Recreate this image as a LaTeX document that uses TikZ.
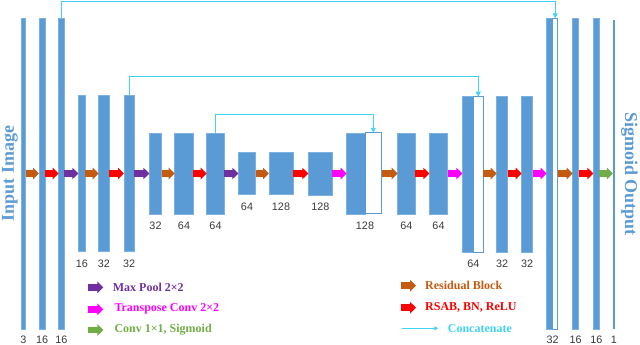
\documentclass[tikz,border=0pt]{standalone}
\usepackage{fontspec}
\setmainfont{Liberation Serif}
\setsansfont{Liberation Sans}
\usetikzlibrary{arrows.meta,calc}
\definecolor{cblue}{HTML}{5B9BD5}
\definecolor{cedge}{HTML}{7DB1E0}
\definecolor{corange}{HTML}{C55A11}
\definecolor{cred}{HTML}{FF0000}
\definecolor{cpurple}{HTML}{7030A0}
\definecolor{cmag}{HTML}{FF00FF}
\definecolor{cgreen}{HTML}{70AD47}
\definecolor{ccyan}{HTML}{40D4F2}
\definecolor{clbl}{HTML}{3A3A3A}
\begin{document}
\begin{tikzpicture}[x=1pt,y=-1pt,
  col/.style={fill=cblue,draw=cedge,line width=0.6pt,inner sep=0pt,outer sep=0pt},
  hol/.style={fill=white,draw=cblue,line width=0.9pt,inner sep=0pt,outer sep=0pt},
  blk/.style={line width=6.5pt,-{Triangle[length=6pt,width=11.5pt]}},
  resb/.style={blk,draw=corange},
  rsab/.style={blk,draw=cred},
  pool/.style={blk,draw=cpurple},
  upc/.style={blk,draw=cmag},
  sigc/.style={blk,draw=cgreen},
  concat/.style={draw=ccyan,line width=0.9pt,-{Triangle[length=5pt,width=5pt]}},
  lbl/.style={font=\sffamily\fontsize{10.8}{12}\selectfont,text=clbl,inner sep=0pt},
  leg/.style={font=\bfseries\fontsize{12}{14}\selectfont,anchor=west,inner sep=0pt},
  side/.style={font=\bfseries\fontsize{18}{20}\selectfont,text=cblue,inner sep=0pt}
]
\useasboundingbox (0,0) rectangle (640,345);
% level 1 (down)
\node[col,minimum width=4.7pt,minimum height=311pt] (c1) at (23.35,173.8) {};
\node[col,minimum width=6.3pt,minimum height=311pt] (c2) at (42.15,173.8) {};
\node[col,minimum width=5.6pt,minimum height=311pt] (c3) at (61.5,173.8) {};
% level 2
\node[col,minimum width=7pt,minimum height=156.5pt] (c4) at (81.8,173.3) {};
\node[col,minimum width=10.6pt,minimum height=156.5pt] (c5) at (104,173.3) {};
\node[col,minimum width=10.3pt,minimum height=156.5pt] (c6) at (129.15,173.3) {};
% level 3
\node[col,minimum width=12.4pt,minimum height=81pt] (c7) at (155.5,173.3) {};
\node[col,minimum width=18.6pt,minimum height=81pt] (c8) at (184,173.3) {};
\node[col,minimum width=17.6pt,minimum height=81pt] (c9) at (215.5,173.3) {};
% level 4
\node[col,minimum width=17.4pt,minimum height=42.6pt] (c10) at (247,173.2) {};
\node[col,minimum width=24pt,minimum height=42.6pt] (c11) at (281,173.2) {};
\node[col,minimum width=24pt,minimum height=42.6pt] (c12) at (320.3,173.6) {};
% up level 3
\node[col,minimum width=18.3pt,minimum height=81pt] (c13a) at (355.85,173.3) {};
\node[hol,minimum width=16.7pt,minimum height=81pt] (c13b) at (373.35,173.3) {};
\node[col,minimum width=17.3pt,minimum height=81pt] (c14) at (406.35,173.3) {};
\node[col,minimum width=18.4pt,minimum height=81pt] (c15) at (438.5,173.3) {};
% up level 2
\node[col,minimum width=11pt,minimum height=156pt] (c16a) at (467.8,174.7) {};
\node[hol,minimum width=10pt,minimum height=156pt] (c16b) at (478.3,174.7) {};
\node[col,minimum width=11pt,minimum height=156pt] (c17) at (502.2,174.7) {};
\node[col,minimum width=11pt,minimum height=156pt] (c18) at (527.2,174.7) {};
% up level 1
\node[col,minimum width=6pt,minimum height=311pt] (c19a) at (549.7,173.8) {};
\node[hol,minimum width=5pt,minimum height=311pt] (c19b) at (555.2,173.8) {};
\node[col,minimum width=6pt,minimum height=311pt] (c20) at (575.7,173.8) {};
\node[col,minimum width=6pt,minimum height=311pt] (c21) at (596.3,173.8) {};
\node[fill=cblue,inner sep=0pt,minimum width=1.4pt,minimum height=309pt] (c22) at (613.8,174.5) {};
% side texts
\node[side,rotate=90] (inp) at (10,173.5) {Input Image};
\node[side,rotate=-90] (outp) at (629.5,174) {Sigmoid Output};
% arrows
\coordinate (m) at (0,173.5);
\draw[resb] (c1.east |- m) -- (c2.west |- m);
\draw[rsab] (c2.east |- m) -- (c3.west |- m);
\draw[pool] (c3.east |- m) -- (c4.west |- m);
\draw[resb] (c4.east |- m) -- (c5.west |- m);
\draw[rsab] (c5.east |- m) -- (c6.west |- m);
\draw[pool] (c6.east |- m) -- (c7.west |- m);
\draw[resb] (c7.east |- m) -- (c8.west |- m);
\draw[rsab] (c8.east |- m) -- (c9.west |- m);
\draw[pool] (c9.east |- m) -- (c10.west |- m);
\draw[resb] (c10.east |- m) -- (c11.west |- m);
\draw[rsab] (c11.east |- m) -- (c12.west |- m);
\draw[upc] (c12.east |- m) -- (c13a.west |- m);
\draw[resb] (c13b.east |- m) -- (c14.west |- m);
\draw[rsab] (c14.east |- m) -- (c15.west |- m);
\draw[upc] (c15.east |- m) -- (c16a.west |- m);
\draw[resb] (c16b.east |- m) -- (c17.west |- m);
\draw[rsab] (c17.east |- m) -- (c18.west |- m);
\draw[upc] (c18.east |- m) -- (c19a.west |- m);
\draw[resb] (c19b.east |- m) -- (c20.west |- m);
\draw[rsab] (c20.east |- m) -- (c21.west |- m);
\draw[sigc] (c21.east |- m) -- (c22.west |- m);
% concatenations
\coordinate (k1) at (0,1.2);
\coordinate (k2) at (0,76.3);
\coordinate (k3) at (0,114.3);
\draw[concat] (c3.north) -- (c3.north |- k1) -| (c19b.north);
\draw[concat] (c6.north) -- (c6.north |- k2) -| (c16b.north);
\draw[concat] (c9.north) -- (c9.north |- k3) -| (c13b.north);
% labels
\coordinate (l1) at (0,340);
\coordinate (l2) at (0,263.5);
\coordinate (l3) at (0,225.7);
\coordinate (l4) at (0,206.7);
\node[lbl] (t1) at (c1 |- l1) {3};
\node[lbl] (t2) at (c2 |- l1) {16};
\node[lbl] (t3) at (c3 |- l1) {16};
\node[lbl] (t4) at (c4 |- l2) {16};
\node[lbl] (t5) at (c5 |- l2) {32};
\node[lbl] (t6) at (c6 |- l2) {32};
\node[lbl] (t7) at (c7 |- l3) {32};
\node[lbl] (t8) at (c8 |- l3) {64};
\node[lbl] (t9) at (c9 |- l3) {64};
\node[lbl] (t10) at (c10 |- l4) {64};
\node[lbl] (t11) at (c11 |- l4) {128};
\node[lbl] (t12) at (c12 |- l4) {128};
\node[lbl] (t13) at (c13a.east |- l3) {128};
\node[lbl] (t14) at (c14 |- l3) {64};
\node[lbl] (t15) at (c15 |- l3) {64};
\node[lbl] (t16) at (c16a.east |- l2) {64};
\node[lbl] (t17) at (c17 |- l2) {32};
\node[lbl] (t18) at (c18 |- l2) {32};
\node[lbl] (t19) at (c19a.east |- l1) {32};
\node[lbl] (t20) at (c20 |- l1) {16};
\node[lbl] (t21) at (c21 |- l1) {16};
\node[lbl] (t22) at (c22 |- l1) {1};
% legend
\coordinate (pa) at (88.3,287.3); \coordinate (pb) at (103.3,287.3);
\coordinate (ma) at (88.3,309.3); \coordinate (mb) at (103.3,309.3);
\coordinate (ga) at (88.3,330);   \coordinate (gb) at (103.3,330);
\coordinate (oa) at (400.7,285.7); \coordinate (ob) at (416,285.7);
\coordinate (ra) at (400.7,307.7); \coordinate (rb) at (416,307.7);
\coordinate (ya) at (401.7,328.3); \coordinate (yb) at (438.3,328.3);
\draw[pool] (pa) -- (pb);
\draw[upc] (ma) -- (mb);
\draw[sigc] (ga) -- (gb);
\draw[resb] (oa) -- (ob);
\draw[rsab] (ra) -- (rb);
\draw[concat,-{Triangle[length=4pt,width=4pt]}] (ya) -- (yb);
\node[leg,text=cpurple] (lg1) at (112.7,287) {Max Pool 2×2};
\node[leg,text=cmag] (lg2) at (114.3,309.3) {Transpose Conv 2×2};
\node[leg,text=cgreen] (lg3) at (114.3,330) {Conv 1×1, Sigmoid};
\node[leg,text=corange] (lg4) at (425,285.7) {Residual Block};
\node[leg,text=cred] (lg5) at (425,307.7) {RSAB, BN, ReLU};
\node[leg,text=ccyan] (lg6) at (447.7,328.3) {Concatenate};
\end{tikzpicture}
\end{document}
